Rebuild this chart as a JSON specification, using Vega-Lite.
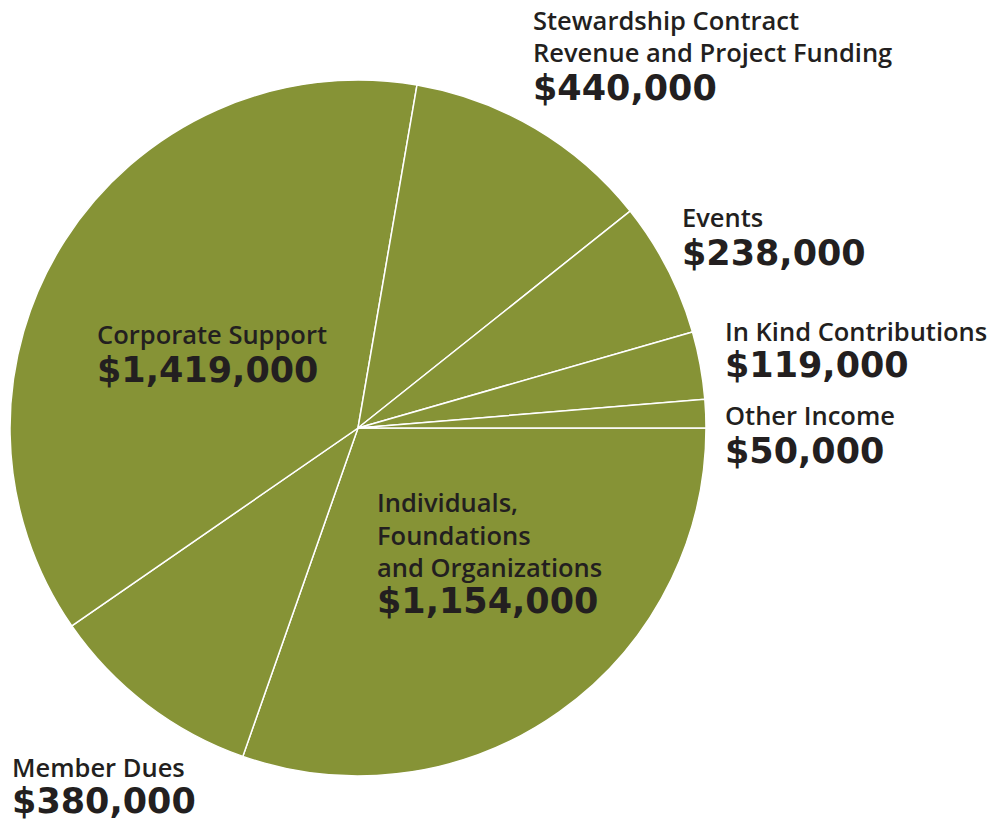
{
  "$schema": "https://vega.github.io/schema/vega-lite/v6.json",
  "width": 696,
  "height": 696,
  "autosize": {"type": "none"},
  "padding": {"left": 10, "top": 80, "right": 286, "bottom": 45},
  "background": "white",
  "view": {"stroke": null},
  "data": {
    "values": [
      {"order": 1, "label": "Individuals,\nFoundations\nand Organizations", "amount": 1154000},
      {"order": 2, "label": "Member Dues", "amount": 380000},
      {"order": 3, "label": "Corporate Support", "amount": 1419000},
      {"order": 4, "label": "Stewardship Contract\nRevenue and Project Funding", "amount": 440000},
      {"order": 5, "label": "Events", "amount": 238000},
      {"order": 6, "label": "In Kind Contributions", "amount": 119000},
      {"order": 7, "label": "Other Income", "amount": 50000}
    ]
  },
  "transform": [
    {"stack": "amount", "groupby": [], "sort": [{"field": "order", "order": "ascending"}], "as": ["start", "end"]}
  ],
  "resolve": {"scale": {"theta": "shared"}},
  "layer": [
    {
      "mark": {"type": "arc", "outerRadius": 348, "fill": "#869336", "stroke": "white", "strokeWidth": 1.5},
      "encoding": {
        "theta": {"field": "start", "type": "quantitative", "stack": null, "scale": {"domain": [0, 3800000], "range": [1.5707963, 7.8539816]}},
        "theta2": {"field": "end"}
      }
    },
    {
      "transform": [{"filter": "datum.order === 1"}],
      "mark": {"type": "text", "radius": 200, "align": "left", "baseline": "alphabetic", "dx": -181, "dy": 84, "font": "Open Sans", "fontSize": 25.5, "fontWeight": 600, "fill": "#231f20", "lineHeight": 32.5, "lineBreak": "\n"},
      "encoding": {"theta": {"field": "start", "type": "quantitative", "stack": null}, "text": {"field": "label"}}
    },
    {
      "transform": [{"filter": "datum.order === 1"}],
      "mark": {"type": "text", "radius": 200, "align": "left", "baseline": "alphabetic", "dx": -181, "dy": 185, "font": "DejaVu Sans", "fontSize": 35, "fontWeight": "bold", "fill": "#231f20"},
      "encoding": {"theta": {"field": "start", "type": "quantitative", "stack": null}, "text": {"field": "amount", "type": "quantitative", "format": "$,"}}
    },
    {
      "transform": [{"filter": "datum.order === 2"}],
      "mark": {"type": "text", "radius": 380, "align": "left", "baseline": "alphabetic", "dx": -220.2, "dy": -9.6, "font": "Open Sans", "fontSize": 25.5, "fontWeight": 600, "fill": "#231f20", "lineHeight": 32.5, "lineBreak": "\n"},
      "encoding": {"theta": {"field": "start", "type": "quantitative", "stack": null}, "text": {"field": "label"}}
    },
    {
      "transform": [{"filter": "datum.order === 2"}],
      "mark": {"type": "text", "radius": 380, "align": "left", "baseline": "alphabetic", "dx": -220.2, "dy": 26.4, "font": "DejaVu Sans", "fontSize": 35, "fontWeight": "bold", "fill": "#231f20"},
      "encoding": {"theta": {"field": "start", "type": "quantitative", "stack": null}, "text": {"field": "amount", "type": "quantitative", "format": "$,"}}
    },
    {
      "transform": [{"filter": "datum.order === 3"}],
      "mark": {"type": "text", "radius": 200, "align": "left", "baseline": "alphabetic", "dx": -96.5, "dy": -197.8, "font": "Open Sans", "fontSize": 25.5, "fontWeight": 600, "fill": "#231f20", "lineHeight": 32.5, "lineBreak": "\n"},
      "encoding": {"theta": {"field": "start", "type": "quantitative", "stack": null}, "text": {"field": "label"}}
    },
    {
      "transform": [{"filter": "datum.order === 3"}],
      "mark": {"type": "text", "radius": 200, "align": "left", "baseline": "alphabetic", "dx": -96.5, "dy": -159.8, "font": "DejaVu Sans", "fontSize": 35, "fontWeight": "bold", "fill": "#231f20"},
      "encoding": {"theta": {"field": "start", "type": "quantitative", "stack": null}, "text": {"field": "amount", "type": "quantitative", "format": "$,"}}
    },
    {
      "transform": [{"filter": "datum.order === 4"}],
      "mark": {"type": "text", "radius": 380, "align": "left", "baseline": "alphabetic", "dx": 110.6, "dy": -23.5, "font": "Open Sans", "fontSize": 25.5, "fontWeight": 600, "fill": "#231f20", "lineHeight": 32.5, "lineBreak": "\n"},
      "encoding": {"theta": {"field": "start", "type": "quantitative", "stack": null}, "text": {"field": "label"}}
    },
    {
      "transform": [{"filter": "datum.order === 4"}],
      "mark": {"type": "text", "radius": 380, "align": "left", "baseline": "alphabetic", "dx": 110.6, "dy": 46.5, "font": "DejaVu Sans", "fontSize": 35, "fontWeight": "bold", "fill": "#231f20"},
      "encoding": {"theta": {"field": "start", "type": "quantitative", "stack": null}, "text": {"field": "amount", "type": "quantitative", "format": "$,"}}
    },
    {
      "transform": [{"filter": "datum.order === 5"}],
      "mark": {"type": "text", "radius": 380, "align": "left", "baseline": "alphabetic", "dx": 26.8, "dy": 35.9, "font": "Open Sans", "fontSize": 25.5, "fontWeight": 600, "fill": "#231f20", "lineHeight": 32.5, "lineBreak": "\n"},
      "encoding": {"theta": {"field": "start", "type": "quantitative", "stack": null}, "text": {"field": "label"}}
    },
    {
      "transform": [{"filter": "datum.order === 5"}],
      "mark": {"type": "text", "radius": 380, "align": "left", "baseline": "alphabetic", "dx": 26.8, "dy": 73.9, "font": "DejaVu Sans", "fontSize": 35, "fontWeight": "bold", "fill": "#231f20"},
      "encoding": {"theta": {"field": "start", "type": "quantitative", "stack": null}, "text": {"field": "amount", "type": "quantitative", "format": "$,"}}
    },
    {
      "transform": [{"filter": "datum.order === 6"}],
      "mark": {"type": "text", "radius": 380, "align": "left", "baseline": "alphabetic", "dx": 1.7, "dy": 17.7, "font": "Open Sans", "fontSize": 25.5, "fontWeight": 600, "fill": "#231f20", "lineHeight": 32.5, "lineBreak": "\n"},
      "encoding": {"theta": {"field": "start", "type": "quantitative", "stack": null}, "text": {"field": "label"}}
    },
    {
      "transform": [{"filter": "datum.order === 6"}],
      "mark": {"type": "text", "radius": 380, "align": "left", "baseline": "alphabetic", "dx": 1.7, "dy": 53.7, "font": "DejaVu Sans", "fontSize": 35, "fontWeight": "bold", "fill": "#231f20"},
      "encoding": {"theta": {"field": "start", "type": "quantitative", "stack": null}, "text": {"field": "amount", "type": "quantitative", "format": "$,"}}
    },
    {
      "transform": [{"filter": "datum.order === 7"}],
      "mark": {"type": "text", "radius": 380, "align": "left", "baseline": "alphabetic", "dx": -11.7, "dy": 28.3, "font": "Open Sans", "fontSize": 25.5, "fontWeight": 600, "fill": "#231f20", "lineHeight": 32.5, "lineBreak": "\n"},
      "encoding": {"theta": {"field": "start", "type": "quantitative", "stack": null}, "text": {"field": "label"}}
    },
    {
      "transform": [{"filter": "datum.order === 7"}],
      "mark": {"type": "text", "radius": 380, "align": "left", "baseline": "alphabetic", "dx": -11.7, "dy": 66.3, "font": "DejaVu Sans", "fontSize": 35, "fontWeight": "bold", "fill": "#231f20"},
      "encoding": {"theta": {"field": "start", "type": "quantitative", "stack": null}, "text": {"field": "amount", "type": "quantitative", "format": "$,"}}
    }
  ]
}
